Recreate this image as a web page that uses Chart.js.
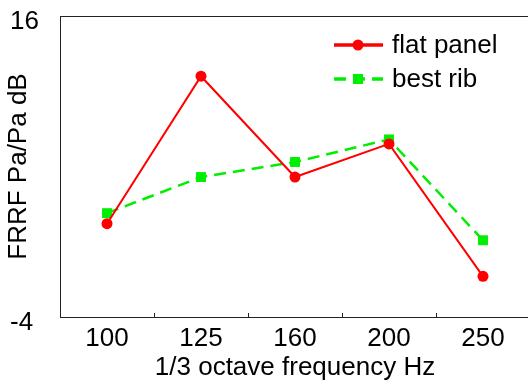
<!DOCTYPE html>
<html>
<head>
<meta charset="utf-8">
<script src="https://cdn.jsdelivr.net/npm/chart.js@4.4.1/dist/chart.umd.min.js"></script>
<style>
  html, body { margin: 0; padding: 0; background: #fff; overflow: hidden; }
  #wrap { width: 540px; height: 383px; }
</style>
</head>
<body>
<div id="wrap"><canvas id="frfChart"></canvas></div>
<script>
const categories = ['100', '125', '160', '200', '250'];
const flatPanel = [2.2, 12, 5.3, 7.5, -1.3];
const bestRib = [2.9, 5.3, 6.3, 7.8, 1.1];
const yTicks = [-4, 16];

const FONT = '"Liberation Sans", Arial, sans-serif';

// marco, título Y y leyenda dibujados a mano
const extras = {
    id: 'extras',
    afterDatasetsDraw(chart) {
        const { ctx, chartArea } = chart;
        ctx.save();
        ctx.strokeStyle = '#222';
        ctx.lineWidth = 1;
        ctx.beginPath();
        ctx.moveTo(chartArea.left, chartArea.top + 0.5);
        ctx.lineTo(chartArea.right, chartArea.top + 0.5);
        ctx.stroke();

        // título eje Y
        ctx.fillStyle = '#000';
        ctx.font = '26px ' + FONT;
        ctx.textAlign = 'center';
        ctx.textBaseline = 'middle';
        ctx.translate(18.5, (chartArea.top + chartArea.bottom) / 2);
        ctx.rotate(-Math.PI / 2);
        ctx.fillText('FRRF Pa/Pa dB', 0, 0);
        ctx.restore();

        // leyenda
        chart.data.datasets.forEach((ds, i) => {
            const y = chartArea.top + 29 + i * 34;
            const x0 = chartArea.right - 196;
            ctx.save();
            ctx.strokeStyle = ds.borderColor;
            ctx.lineWidth = 3.5;
            ctx.setLineDash(ds.borderDash || []);
            ctx.beginPath();
            ctx.moveTo(x0, y);
            ctx.lineTo(x0 + 49, y);
            ctx.stroke();
            ctx.setLineDash([]);
            ctx.fillStyle = ds.borderColor;
            if (ds.pointStyle === 'rect') {
                ctx.fillRect(x0 + 19, y - 5, 10, 10);
            } else {
                ctx.beginPath();
                ctx.arc(x0 + 24, y, 5.5, 0, Math.PI * 2);
                ctx.fill();
            }
            ctx.fillStyle = '#000';
            ctx.font = '26px ' + FONT;
            ctx.textAlign = 'left';
            ctx.textBaseline = 'middle';
            ctx.fillText(ds.label, x0 + 58, y + 1);
            ctx.restore();
        });
    }
};

const ctxFrf = document.getElementById('frfChart').getContext('2d');
const chartFrf = new Chart(ctxFrf, {
    type: 'line',
    data: {
        labels: categories,
        datasets: [{
            label: 'flat panel',
            data: flatPanel,
            borderColor: '#ff0000',
            backgroundColor: '#ff0000',
            borderWidth: 2,
            pointStyle: 'circle',
            pointRadius: 5.5,
            pointBorderWidth: 0,
            tension: 0
        }, {
            label: 'best rib',
            data: bestRib,
            borderColor: '#00ee00',
            backgroundColor: '#00ee00',
            borderWidth: 2.5,
            borderDash: [12, 7],
            pointStyle: 'rect',
            pointRadius: 7,
            pointBorderWidth: 0,
            tension: 0
        }]
    },
    options: {
        responsive: true,
        maintainAspectRatio: false,
        animation: false,
        layout: { padding: { left: 10, right: 10, top: 16, bottom: 0 } },
        plugins: {
            legend: { display: false },
            tooltip: { enabled: false }
        },
        scales: {
            x: {
                offset: true,
                afterFit: axis => { axis.height = 66; },
                grid: {
                    offset: true,
                    drawOnChartArea: false,
                    drawTicks: true,
                    tickLength: -4,
                    color: '#222'
                },
                border: { display: true, color: '#222', width: 1 },
                ticks: {
                    color: '#000',
                    padding: 13,
                    font: { family: FONT, size: 26, lineHeight: 1 }
                },
                title: {
                    display: true,
                    text: '1/3 octave frequency Hz',
                    color: '#000',
                    padding: 0,
                    font: { family: FONT, size: 26, lineHeight: 1.2 }
                }
            },
            y: {
                min: -4,
                max: 16,
                afterBuildTicks: axis => { axis.ticks = yTicks.map(v => ({ value: v })); },
                afterFit: axis => { axis.width = 50; },
                grid: { drawOnChartArea: false, drawTicks: false, color: '#222' },
                border: { display: true, color: '#222', width: 1 },
                ticks: {
                    color: '#000',
                    padding: 0,
                    crossAlign: 'far',
                    labelOffset: 6,
                    font: { family: FONT, size: 26, lineHeight: 1.2 }
                }
            }
        }
    },
    plugins: [extras]
});
</script>
</body>
</html>
